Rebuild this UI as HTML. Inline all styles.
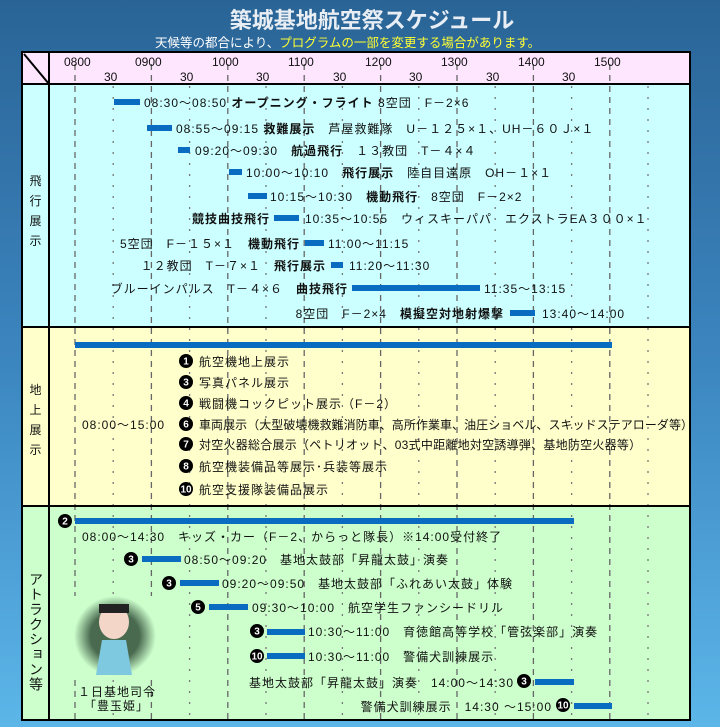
<!DOCTYPE html>
<html><head><meta charset="utf-8"><style>
html,body{margin:0;padding:0;width:720px;height:727px;overflow:hidden}
body{background:linear-gradient(#2a6496,#3c86c0 50%,#5cb6e8);}
svg{display:block;font-family:"Liberation Sans","Noto Sans CJK JP",sans-serif}
text{font-size:12px;fill:#111;letter-spacing:1px}
.b{font-weight:bold}
.c{fill:#fff;font-size:10px;font-weight:bold;text-anchor:middle;letter-spacing:0}
.h{letter-spacing:0}
</style></head><body>
<svg width="720" height="727" viewBox="0 0 720 727" xmlns="http://www.w3.org/2000/svg">
<text x="372" y="28" class="h" style="font-size:22px;fill:#e8eef4;text-anchor:middle;font-weight:bold">築城基地航空祭スケジュール</text>
<text x="155" y="47" class="h" style="font-size:12.5px;fill:#fff">天候等の都合により、<tspan style="fill:#ffff33">プログラムの一部を変更する場合があります。</tspan></text>
<rect x="22" y="52" width="668" height="32" fill="#ffe6ff"/>
<rect x="22" y="84" width="668" height="243" fill="#ccffff"/>
<rect x="22" y="327" width="668" height="179" fill="#ffffcc"/>
<rect x="22" y="506" width="668" height="214" fill="#ccffcc"/>
<g stroke="#666" stroke-width="1.3" stroke-dasharray="6,5">
<line x1="75" y1="64" x2="75" y2="720"/><line x1="151.4" y1="64" x2="151.4" y2="720"/><line x1="227.8" y1="64" x2="227.8" y2="720"/><line x1="304.2" y1="64" x2="304.2" y2="720"/><line x1="380.6" y1="64" x2="380.6" y2="720"/><line x1="457" y1="64" x2="457" y2="720"/><line x1="533.4" y1="64" x2="533.4" y2="720"/><line x1="609.8" y1="64" x2="609.8" y2="720"/>
</g>
<g stroke="#777" stroke-width="1.3" stroke-dasharray="2,9">
<line x1="113.2" y1="86" x2="113.2" y2="720"/><line x1="189.6" y1="86" x2="189.6" y2="720"/><line x1="266" y1="86" x2="266" y2="720"/><line x1="342.4" y1="86" x2="342.4" y2="720"/><line x1="418.8" y1="86" x2="418.8" y2="720"/><line x1="495.2" y1="86" x2="495.2" y2="720"/><line x1="571.6" y1="86" x2="571.6" y2="720"/><line x1="648" y1="86" x2="648" y2="720"/>
</g>
<g stroke="#000" stroke-width="2" fill="none">
<rect x="22" y="52" width="668" height="668"/>
<line x1="22" y1="84" x2="690" y2="84"/><line x1="22" y1="327" x2="690" y2="327"/><line x1="22" y1="506" x2="690" y2="506"/>
<line x1="49" y1="52" x2="49" y2="720"/><line x1="24" y1="54" x2="49" y2="84"/>
</g>
<g style="font-size:12.5px" class="h">
<text class="h" x="64" y="66">0800</text><text class="h" x="135" y="66">0900</text><text class="h" x="212" y="66">1000</text><text class="h" x="288" y="66">1100</text><text class="h" x="365" y="66">1200</text><text class="h" x="441" y="66">1300</text><text class="h" x="518" y="66">1400</text><text class="h" x="594" y="66">1500</text>
<text class="h" x="104" y="81">30</text><text class="h" x="180" y="81">30</text><text class="h" x="256" y="81">30</text><text class="h" x="333" y="81">30</text><text class="h" x="409" y="81">30</text><text class="h" x="486" y="81">30</text><text class="h" x="562" y="81">30</text>
</g>
<g style="font-size:14px;text-anchor:middle">
<text x="36" y="185">飛</text><text x="36" y="205">行</text><text x="36" y="225">展</text><text x="36" y="245">示</text>
<text x="36" y="394">地</text><text x="36" y="414">上</text><text x="36" y="434">展</text><text x="36" y="454">示</text>
</g>
<text x="36" y="572" style="font-size:14px;writing-mode:vertical-rl;letter-spacing:1px">アトラクション等</text>
<g fill="#0a6cc0">
<rect x="114" y="99" width="26" height="6"/><rect x="147" y="125" width="25" height="6"/><rect x="178" y="147" width="12" height="6"/><rect x="229" y="169" width="13" height="6"/><rect x="248" y="193" width="19" height="6"/><rect x="274" y="215" width="25" height="6"/><rect x="305" y="240" width="19" height="6"/><rect x="331" y="262" width="12" height="6"/><rect x="352" y="285" width="128" height="6"/><rect x="510" y="310" width="25" height="6"/>
<rect x="75" y="342" width="537" height="6"/>
<rect x="75" y="518" width="499" height="6"/><rect x="142" y="556" width="39" height="6"/><rect x="180" y="580" width="39" height="6"/><rect x="209" y="604" width="39" height="6"/><rect x="267" y="629" width="38" height="6"/><rect x="267" y="653" width="38" height="6"/><rect x="535" y="679" width="39" height="6"/><rect x="574" y="703" width="38" height="6"/>
</g>
<text x="144" y="107">08:30～08:50 <tspan class="b">オープニング・フライト</tspan> 8空団　F－2×6</text>
<text x="176" y="133">08:55～09:15 <tspan class="b">救難展示</tspan>　芦屋救難隊　U－１２５×１、UH－６０Ｊ×１</text>
<text x="195" y="155">09:20～09:30　<tspan class="b">航過飛行</tspan>　１３教団　T－４×４</text>
<text x="246" y="177">10:00～10:10　<tspan class="b">飛行展示</tspan>　陸自目達原　OH－１×１</text>
<text x="270" y="201">10:15～10:30　<tspan class="b">機動飛行</tspan>　8空団　F－2×2</text>
<text x="270" y="223" class="b" style="text-anchor:end">競技曲技飛行</text>
<text x="305" y="223">10:35～10:55　ウィスキーパパ　エクストラEA３００×１</text>
<text x="300" y="248" style="text-anchor:end">5空団　F－１５×１　<tspan class="b">機動飛行</tspan></text>
<text x="328" y="248">11:00～11:15</text>
<text x="326" y="270" style="text-anchor:end">１２教団　T－７×１　<tspan class="b">飛行展示</tspan></text>
<text x="349" y="270">11:20～11:30</text>
<text x="348" y="293" style="text-anchor:end">ブルーインパルス　T－４×６　<tspan class="b">曲技飛行</tspan></text>
<text x="484" y="293">11:35～13:15</text>
<text x="504" y="318" style="text-anchor:end">8空団　F－2×4　<tspan class="b">模擬空対地射爆撃</tspan></text>
<text x="542" y="318">13:40～14:00</text>
<g>
<circle cx="186" cy="361" r="7"/><text class="c" x="186" y="364.5">1</text><text x="199" y="366">航空機地上展示</text>
<circle cx="186" cy="382" r="7"/><text class="c" x="186" y="385.5">3</text><text x="199" y="387">写真パネル展示</text>
<circle cx="186" cy="403" r="7"/><text class="c" x="186" y="406.5">4</text><text x="199" y="408">戦闘機コックピット展示（F－2）</text>
<text x="82" y="429">08:00～15:00</text>
<circle cx="186" cy="424" r="7"/><text class="c" x="186" y="427.5">6</text><text x="199" y="429" style="letter-spacing:0.05px">車両展示（大型破壊機救難消防車、高所作業車、油圧ショベル、スキッドステアローダ等）</text>
<circle cx="186" cy="444" r="7"/><text class="c" x="186" y="447.5">7</text><text x="199" y="449" style="letter-spacing:0.25px">対空火器総合展示（ペトリオット、03式中距離地対空誘導弾、基地防空火器等）</text>
<circle cx="186" cy="466" r="7"/><text class="c" x="186" y="469.5">8</text><text x="199" y="471">航空機装備品等展示･兵装等展示</text>
<circle cx="186" cy="489" r="7"/><text class="c" x="186" y="492.5">10</text><text x="199" y="494">航空支援隊装備品展示</text>
</g>
<circle cx="65" cy="521" r="7"/><text class="c" x="65" y="524.5">2</text>
<text x="82" y="541">08:00～14:30　キッズ・カー（F－2、からっと隊長）※14:00受付終了</text>
<circle cx="131" cy="559" r="7"/><text class="c" x="131" y="562.5">3</text><text x="184" y="564">08:50～09:20　基地太鼓部「昇龍太鼓」演奏</text>
<circle cx="169" cy="583" r="7"/><text class="c" x="169" y="586.5">3</text><text x="222" y="588">09:20～09:50　基地太鼓部「ふれあい太鼓」体験</text>
<circle cx="198" cy="607" r="7"/><text class="c" x="198" y="610.5">5</text><text x="252" y="612">09:30～10:00　航空学生ファンシードリル</text>
<circle cx="257" cy="631" r="7"/><text class="c" x="257" y="634.5">3</text><text x="308" y="636">10:30～11:00　育徳館高等学校「管弦楽部」演奏</text>
<circle cx="257" cy="656" r="7"/><text class="c" x="257" y="659.5">10</text><text x="308" y="661">10:30～11:00　警備犬訓練展示</text>
<text x="514" y="687" style="text-anchor:end">基地太鼓部「昇龍太鼓」演奏　14:00～14:30</text>
<circle cx="524" cy="681" r="7"/><text class="c" x="524" y="684.5">3</text>
<text x="552" y="711" style="text-anchor:end">警備犬訓練展示　14:30 ～15:00</text>
<circle cx="563" cy="705" r="7"/><text class="c" x="563" y="708.5">10</text>
<defs><radialGradient id="g"><stop offset="0.6" stop-color="#4a6a50"/><stop offset="1" stop-color="#ccffcc"/></radialGradient></defs>
<rect x="74" y="596" width="82" height="80" fill="url(#g)"/>
<ellipse cx="114" cy="622" rx="15" ry="17" fill="#f4d6c8"/>
<rect x="99" y="604" width="30" height="9" fill="#222"/>
<path d="M102 640 L126 640 L132 675 L96 675Z" fill="#7ec8e0"/>
<text x="78" y="696">１日基地司令</text>
<text x="84" y="710">「豊玉姫」</text>
</svg>
</body></html>
